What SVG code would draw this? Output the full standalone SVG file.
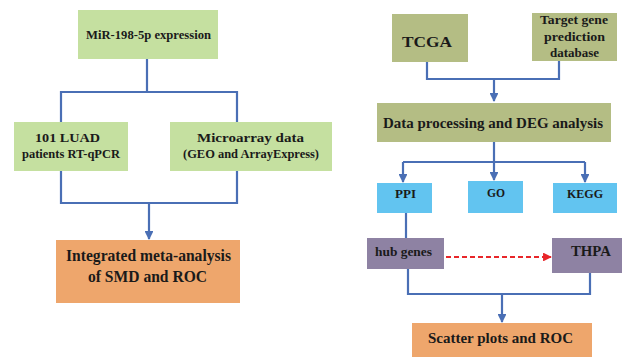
<svg xmlns="http://www.w3.org/2000/svg" width="622" height="357" viewBox="0 0 622 357">
<defs>
<marker id="ab" viewBox="0 0 10 10" refX="9" refY="5" markerWidth="4" markerHeight="4" orient="auto" markerUnits="strokeWidth"><path d="M0,0L10,5L0,10z" fill="#4a6fb5"/></marker>
<marker id="ar" viewBox="0 0 10 10" refX="9" refY="5" markerWidth="4" markerHeight="4" orient="auto" markerUnits="strokeWidth"><path d="M0,0L10,5L0,10z" fill="#e8262a"/></marker>
</defs>
<style>
text{font-family:'Liberation Serif','DejaVu Serif',serif;font-weight:bold;fill:#1a1a1a;text-anchor:middle}
.s{font-size:12.5px}
.m{font-size:15px}
.l{font-size:16px}
.ln{fill:none;stroke:#4a6fb5;stroke-width:2.2}
.lg{fill:#c5e0a0}
.ol{fill:#b4bd84}
.or{fill:#eea66c}
.bl{fill:#62c4f0}
.pu{fill:#8e82a3}
</style>
<rect width="622" height="357" fill="#ffffff"/>
<g id="connectors">
<path class="ln" d="M147,59V92M61,122V92H237V122"/>
<path class="ln" d="M61,171V203H237V171M149,203V239" marker-end="url(#ab)"/>
<path class="ln" d="M427,62V79H559V61M494,79V101" marker-end="url(#ab)"/>
<path class="ln" d="M494,142V162"/>
<path class="ln" d="M403,162H585"/>
<path class="ln" d="M403,162V182" marker-end="url(#ab)"/>
<path class="ln" d="M494,162V180" marker-end="url(#ab)"/>
<path class="ln" d="M585,162V182" marker-end="url(#ab)"/>
<path class="ln" d="M406,213V238"/>
<path fill="none" stroke="#e8262a" stroke-width="2.2" stroke-dasharray="5,3" d="M446,257H551" marker-end="url(#ar)"/>
<path class="ln" d="M408,269V294H590V273M502,294V322" marker-end="url(#ab)"/>
</g>
<g id="mir"><rect class="lg" x="78" y="10" width="140" height="49"/><text class="s" x="148.5" y="39" textLength="125" lengthAdjust="spacingAndGlyphs">MiR-198-5p expression</text></g>
<g id="luad"><rect class="lg" x="14" y="122" width="114" height="49"/><text class="s" x="67.5" y="142" textLength="65" lengthAdjust="spacingAndGlyphs">101 LUAD</text><text class="s" x="71" y="158" textLength="98" lengthAdjust="spacingAndGlyphs">patients RT-qPCR</text></g>
<g id="microarray"><rect class="lg" x="170" y="122" width="162" height="49"/><text class="s" x="250.5" y="142" textLength="107" lengthAdjust="spacingAndGlyphs">Microarray data</text><text class="s" x="251" y="158" textLength="136" lengthAdjust="spacingAndGlyphs">(GEO and ArrayExpress)</text></g>
<g id="meta"><rect class="or" x="56" y="240" width="184" height="63"/><text class="l" x="148.5" y="261" textLength="165" lengthAdjust="spacingAndGlyphs">Integrated meta-analysis</text><text class="l" x="147.5" y="282" textLength="119" lengthAdjust="spacingAndGlyphs">of SMD and ROC</text></g>
<g id="tcga"><rect class="ol" x="392" y="14" width="76" height="48"/><text class="m" x="427" y="47" textLength="50" lengthAdjust="spacingAndGlyphs">TCGA</text></g>
<g id="target"><rect class="ol" x="532" y="13" width="85" height="48"/><text class="s" x="574" y="24" textLength="68" lengthAdjust="spacingAndGlyphs">Target  gene</text><text class="s" x="574.5" y="41" textLength="61" lengthAdjust="spacingAndGlyphs">prediction</text><text class="s" x="574.5" y="57" textLength="49" lengthAdjust="spacingAndGlyphs">database</text></g>
<g id="deg"><rect class="ol" x="377" y="103" width="234" height="39"/><text class="m" x="493" y="128" textLength="220" lengthAdjust="spacingAndGlyphs">Data processing and DEG analysis</text></g>
<g id="ppi"><rect class="bl" x="377" y="183" width="55" height="30"/><text class="s" x="405.5" y="198" textLength="21" lengthAdjust="spacingAndGlyphs">PPI</text></g>
<g id="go"><rect class="bl" x="468" y="181" width="55" height="32"/><text class="s" x="496" y="197" textLength="18" lengthAdjust="spacingAndGlyphs">GO</text></g>
<g id="kegg"><rect class="bl" x="553" y="183" width="64" height="30"/><text class="s" x="585" y="198" textLength="36" lengthAdjust="spacingAndGlyphs">KEGG</text></g>
<g id="hub"><rect class="pu" x="367" y="238" width="77" height="31"/><text class="s" x="403.5" y="256" textLength="57" lengthAdjust="spacingAndGlyphs">hub genes</text></g>
<g id="thpa"><rect class="pu" x="552" y="238" width="70" height="35"/><text class="m" x="591" y="256" textLength="40" lengthAdjust="spacingAndGlyphs">THPA</text></g>
<g id="scatter"><rect class="or" x="412" y="323" width="180" height="36"/><text class="m" x="500.5" y="343" textLength="145" lengthAdjust="spacingAndGlyphs">Scatter plots and ROC</text></g>
</svg>
